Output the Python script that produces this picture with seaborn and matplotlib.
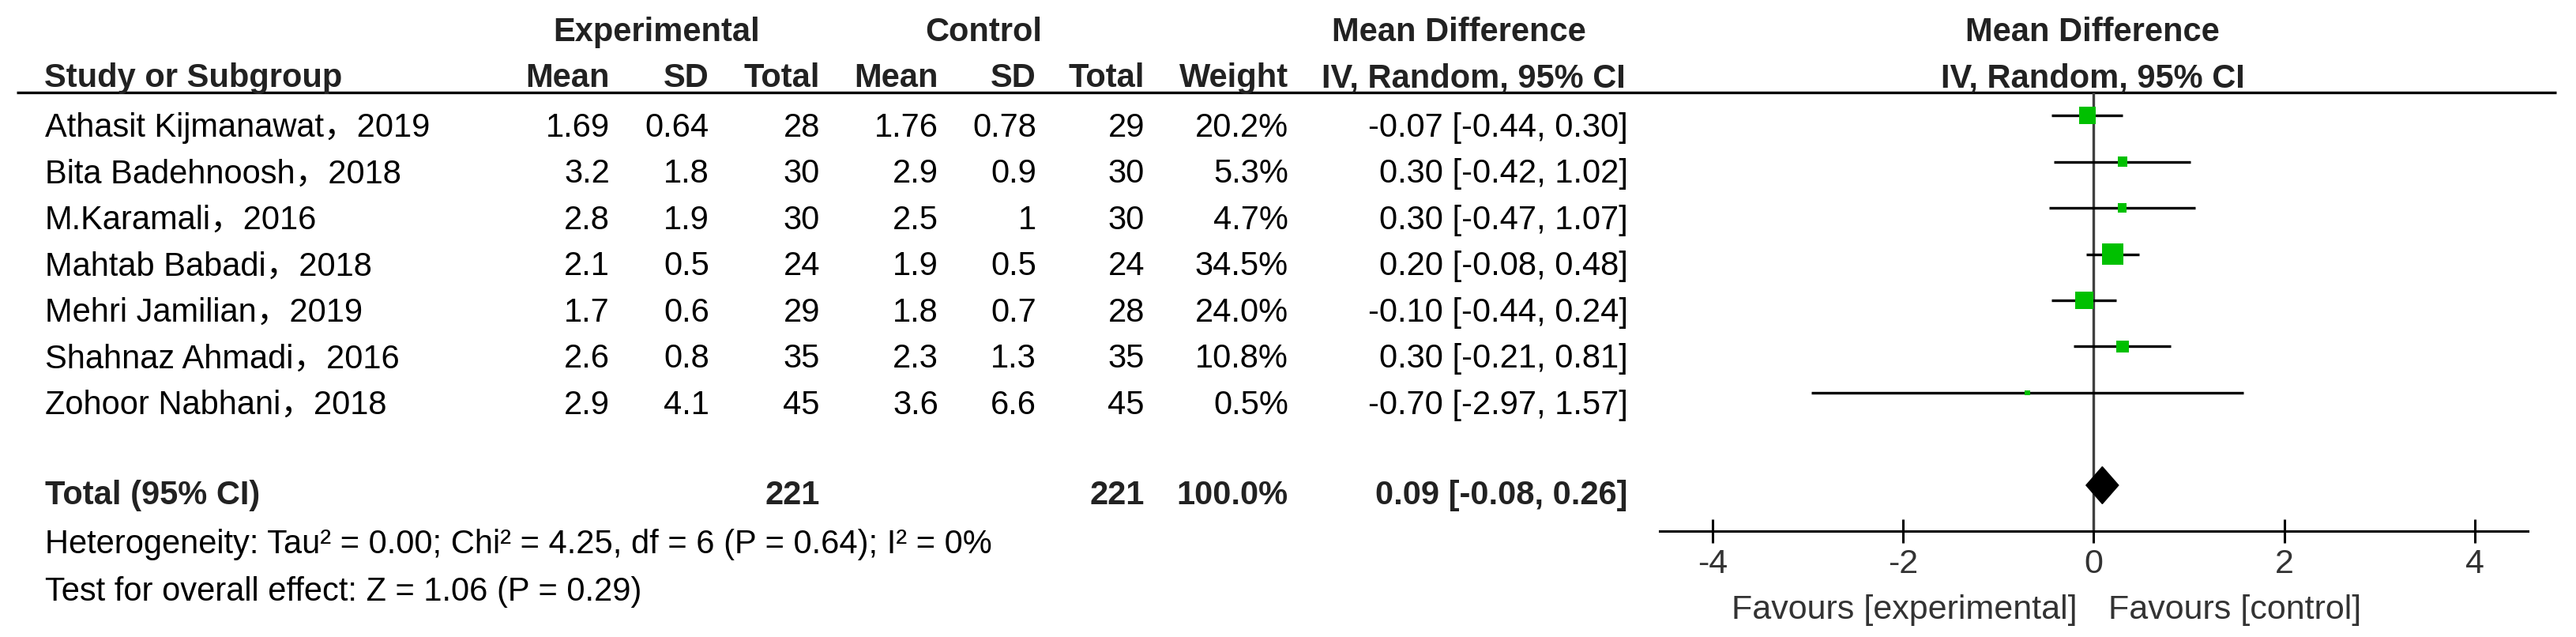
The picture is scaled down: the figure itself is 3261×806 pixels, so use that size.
import numpy as np
import pandas as pd
import seaborn as sns
import matplotlib.pyplot as plt

############# Chart data ###############################
########################################################
studies = ['Athasit Kijmanawat，2019', 'Bita Badehnoosh，2018', 'M.Karamali，2016',
           'Mahtab Babadi，2018', 'Mehri Jamilian，2019', 'Shahnaz Ahmadi，2016',
           'Zohoor Nabhani，2018']
exp_mean = [1.69, 3.2, 2.8, 2.1, 1.7, 2.6, 2.9]
exp_sd = [0.64, 1.8, 1.9, 0.5, 0.6, 0.8, 4.1]
exp_n = [28, 30, 30, 24, 29, 35, 45]
ctl_mean = [1.76, 2.9, 2.5, 1.9, 1.8, 2.3, 3.6]
ctl_sd = [0.78, 0.9, 1, 0.5, 0.7, 1.3, 6.6]
ctl_n = [29, 30, 30, 24, 28, 35, 45]
weight = [20.2, 5.3, 4.7, 34.5, 24.0, 10.8, 0.5]
md = [-0.07, 0.30, 0.30, 0.20, -0.10, 0.30, -0.70]
ci_lo = [-0.44, -0.42, -0.47, -0.08, -0.44, -0.21, -2.97]
ci_hi = [0.30, 1.02, 1.07, 0.48, 0.24, 0.81, 1.57]

total_exp = 221
total_ctl = 221
total_weight = 100.0
pooled_md, pooled_lo, pooled_hi = 0.09, -0.08, 0.26

heterogeneity = 'Heterogeneity: Tau² = 0.00; Chi² = 4.25, df = 6 (P = 0.64); I² = 0%'
overall_effect = 'Test for overall effect: Z = 1.06 (P = 0.29)'
x_ticks = [-4, -2, 0, 2, 4]
favours = ['Favours [experimental]', 'Favours [control]']

############# Style / layout ###########################
########################################################
sns.set_theme(style='white')
plt.rcParams['font.family'] = ['Liberation Sans', 'Noto Sans CJK SC']
plt.rcParams['axes.unicode_minus'] = False

W, H = 3262, 806
row_top, row_h = 146, 58.5  # pixel y of first study row, row spacing
ylim = ((H - row_top) / row_h, -row_top / row_h)
fs = 30
green = '#00c000'

fig = plt.figure(figsize=(W / 100, H / 100), dpi=100)

# table axes: x in pixels, y in rows
tab = fig.add_axes([0, 0, 1, 1])
tab.set_xlim(0, W)
tab.set_ylim(*ylim)
tab.axis('off')

# column right edges (px)
col_x = {'exp_mean': 772, 'exp_sd': 898, 'exp_n': 1038, 'ctl_mean': 1188,
         'ctl_sd': 1312, 'ctl_n': 1449, 'weight': 1631, 'md': 2061}
name_x = 57

def txt(x, y, s, ha='right', bold=False, color='black', **kw):
    tab.text(x, y, s, ha=ha, va='baseline', fontsize=fs,
             fontweight='bold' if bold else 'normal', color=color, **kw)

############# Header ###################################
########################################################
hc = '#222222'
txt(831, -1.61, 'Experimental', ha='center', bold=True, color=hc)
txt(1245, -1.61, 'Control', ha='center', bold=True, color=hc)
txt(1847, -1.61, 'Mean Difference', ha='center', bold=True, color=hc)
txt(2649, -1.61, 'Mean Difference', ha='center', bold=True, color=hc)

txt(56, -0.615, 'Study or Subgroup', ha='left', bold=True, color=hc)
for key, lab in [('exp_mean', 'Mean'), ('exp_sd', 'SD'), ('exp_n', 'Total'),
                 ('ctl_mean', 'Mean'), ('ctl_sd', 'SD'), ('ctl_n', 'Total'),
                 ('weight', 'Weight')]:
    txt(col_x[key], -0.615, lab, bold=True, color=hc)
txt(1865, -0.615, 'IV, Random, 95% CI', ha='center', bold=True, color=hc)
txt(2649, -0.615, 'IV, Random, 95% CI', ha='center', bold=True, color=hc)

tab.hlines(-0.5, 21, 3236, color='black', lw=2.4)

############# Study rows ###############################
########################################################
for i, name in enumerate(studies):
    y = i + 0.46
    txt(name_x, y, name, ha='left')
    txt(col_x['exp_mean'], y, f'{exp_mean[i]:g}')
    txt(col_x['exp_sd'], y, f'{exp_sd[i]:g}')
    txt(col_x['exp_n'], y, f'{exp_n[i]}')
    txt(col_x['ctl_mean'], y, f'{ctl_mean[i]:g}')
    txt(col_x['ctl_sd'], y, f'{ctl_sd[i]:g}')
    txt(col_x['ctl_n'], y, f'{ctl_n[i]}')
    txt(col_x['weight'], y, f'{weight[i]:.1f}%')
    txt(col_x['md'], y, f'{md[i]:.2f} [{ci_lo[i]:.2f}, {ci_hi[i]:.2f}]')

total_row = len(studies) + 1
axis_row = total_row + 1
yt = total_row + 0.41
txt(name_x, yt, 'Total (95% CI)', ha='left', bold=True, color=hc)
txt(col_x['exp_n'], yt, f'{total_exp}', bold=True, color=hc)
txt(col_x['ctl_n'], yt, f'{total_ctl}', bold=True, color=hc)
txt(col_x['weight'], yt, f'{total_weight:.1f}%', bold=True, color=hc)
txt(col_x['md'], yt, f'{pooled_md:.2f} [{pooled_lo:.2f}, {pooled_hi:.2f}]', bold=True, color=hc)
txt(name_x, axis_row + 0.47, heterogeneity, ha='left')
txt(name_x, axis_row + 1.5, overall_effect, ha='left')

############# Forest plot ##############################
########################################################
ax = fig.add_axes([2101 / W, 0, 1099 / W, 1])
ax.patch.set_visible(False)

df = pd.DataFrame({'md': md, 'row': np.arange(len(studies)), 'weight': weight})
ax.vlines(0, -0.5, axis_row, color='#404040', lw=2.4, zorder=1)
ax.hlines(df['row'], ci_lo, ci_hi, color='black', lw=2.4, zorder=2)
sns.scatterplot(data=df, x='md', y='row', size='weight', sizes=(20, 380),
                size_norm=(0, 34.5), marker='s', color=green, linewidth=0,
                legend=False, ax=ax, zorder=3)
ax.fill([pooled_lo, pooled_md, pooled_hi, pooled_md],
        [total_row, total_row - 0.4, total_row, total_row + 0.4],
        color='black', zorder=3)

ax.set_xlim(-4.56, 4.56)
ax.set_ylim(*ylim)
ax.set_xlabel('')
ax.set_ylabel('')
ax.set_yticks([])
ax.set_xticks(x_ticks)
ax.set_xticklabels([str(t) for t in x_ticks])
for s in ['left', 'right', 'top']:
    ax.spines[s].set_visible(False)
ax.spines['bottom'].set_position(('data', axis_row))
ax.spines['bottom'].set_color('black')
ax.spines['bottom'].set_linewidth(2.2)
ax.tick_params(axis='x', direction='inout', length=21, width=2.2, color='black',
               labelsize=31, labelcolor='#333333', pad=5, bottom=True)

ax.text(-0.17, axis_row + 1.89, favours[0], ha='right', va='baseline',
        fontsize=31, color='#333333')
ax.text(0.15, axis_row + 1.89, favours[1], ha='left', va='baseline',
        fontsize=31, color='#333333')

fig.savefig('out.png', dpi=100)
